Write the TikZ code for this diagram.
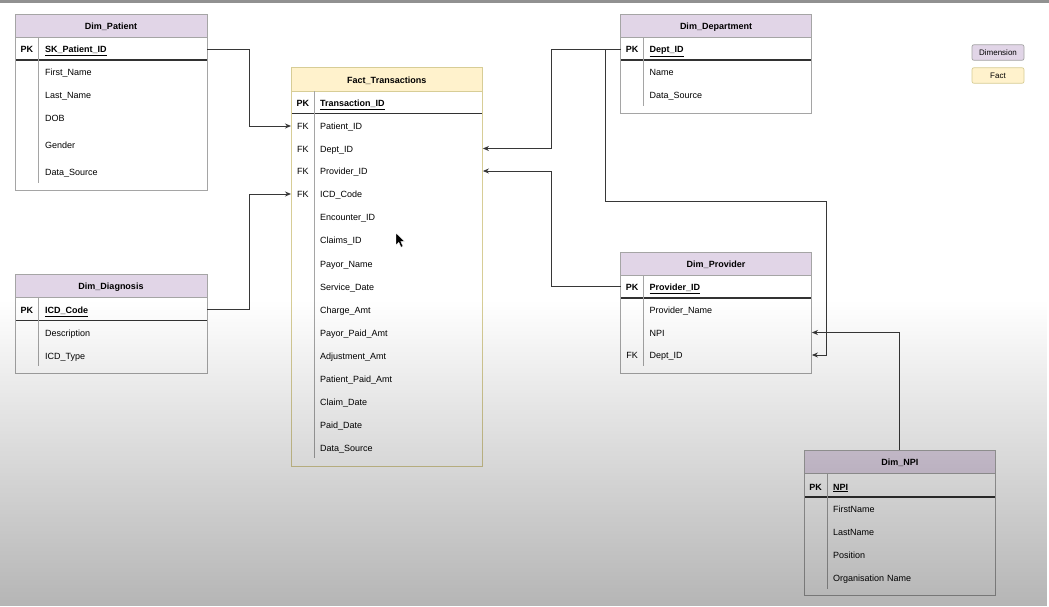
\documentclass[tikz,border=0pt]{standalone}
\usepackage{fontspec}
\setmainfont{Liberation Sans}
\usetikzlibrary{arrows.meta,fadings}
\definecolor{dimfill}{RGB}{225,213,231}
\definecolor{factfill}{RGB}{255,242,204}
\definecolor{dimline}{RGB}{165,165,165}
\definecolor{factline}{RGB}{215,205,150}
\definecolor{connc}{RGB}{55,55,55}
\definecolor{sepc}{RGB}{50,50,50}
\definecolor{topbar}{RGB}{145,145,145}
\tikzfading[name=fadedown, top color=transparent!100, bottom color=transparent!0]
\newcommand\tblfont{\fontsize{9}{11}\selectfont}
\newcommand\legfont{\fontsize{8}{10}\selectfont}
\tikzset{
  hdrD/.style={fill=dimfill, minimum width=#1, minimum height=23pt, inner sep=0pt, font=\tblfont\bfseries, text height=8.5pt, text depth=1pt},
  hdrF/.style={fill=factfill, minimum width=#1, minimum height=23pt, inner sep=0pt, font=\tblfont\bfseries, text height=8.5pt, text depth=1pt},
  fld/.style={anchor=west, inner sep=0pt, text width=#1, align=left, font=\tblfont, text height=8.5pt, text depth=1pt},
  fldk/.style={fld=#1, font=\tblfont\bfseries},
  keyl/.style={anchor=west, inner sep=0pt, minimum width=#1, font=\tblfont, text height=8.5pt, text depth=1pt},
  keyb/.style={keyl=#1, font=\tblfont\bfseries},
  dimbox/.style={draw=dimline, line width=0.8pt},
  factbox/.style={draw=factline, line width=0.8pt},
  hlineD/.style={draw=dimline, line width=0.6pt},
  hlineF/.style={draw=factline, line width=0.6pt},
  sepl/.style={draw=sepc, line width=1.1pt},
  vl/.style={draw=dimline, line width=0.7pt},
  conn/.style={draw=connc, line width=1pt, -{Stealth[length=6pt, width=5pt]}},
  legbox/.style={rounded corners=2pt, line width=0.7pt, minimum width=52pt, minimum height=15.6pt, inner sep=0pt, font=\legfont, text height=7pt, text depth=1pt},
}
\begin{document}
\begin{tikzpicture}[x=1pt, y=-1pt]
\useasboundingbox (0,0) rectangle (1049,606);
\fill[white] (0,0) rectangle (1049,606);
\fill[topbar] (0,0) rectangle (1049,2.5);

% ---------- Dim_Patient ----------
\node[hdrD=192pt] (patH) at (111,25.5) {Dim\_Patient};
\draw[hlineD] (15,37) -- (207,37);
\draw[sepl] (15,60) -- (207,60);
\draw[vl] (38.5,37) -- (38.5,182.5);
\draw[dimbox] (15,14) rectangle (207,190.5);
\node[keyb=23.5pt] (patK) at (15,49) {PK};
\node[fldk=162pt] (patPK) at (45,49) {\underline{SK\_Patient\_ID}};
\foreach \nm/\yy [count=\i] in {First\_Name/72, Last\_Name/95, DOB/118, Gender/145, Data\_Source/172}
  \node[fld=162pt] (patF\i) at (45,\yy) {\nm};

% ---------- Dim_Diagnosis ----------
\node[hdrD=192pt] (diaH) at (111,285.5) {Dim\_Diagnosis};
\draw[hlineD] (15,297) -- (207,297);
\draw[sepl] (15,320.5) -- (207,320.5);
\draw[vl] (38.5,297) -- (38.5,366);
\draw[dimbox] (15,274) rectangle (207,373.5);
\node[keyb=23.5pt] (diaK) at (15,309.5) {PK};
\node[fldk=162pt] (diaPK) at (45,309.5) {\underline{ICD\_Code}};
\node[fld=162pt] (diaF1) at (45,332.5) {Description};
\node[fld=162pt] (diaF2) at (45,355.5) {ICD\_Type};

% ---------- Fact_Transactions ----------
\node[hdrF=191.5pt] (factH) at (386.75,79.25) {Fact\_Transactions};
\draw[hlineF] (291,91) -- (482.5,91);
\draw[sepl] (291,113.5) -- (482.5,113.5);
\draw[vl] (314.5,91) -- (314.5,458);
\draw[factbox] (291,67.5) rectangle (482.5,466);
\node[keyb=23.5pt] (factK) at (291,103) {PK};
\node[fldk=162.5pt] (factPK) at (320,103) {\underline{Transaction\_ID}};
\node[keyl=23.5pt] (fkPat) at (291,126) {FK};
\node[keyl=23.5pt] (fkDept) at (291,148.5) {FK};
\node[keyl=23.5pt] (fkProv) at (291,171) {FK};
\node[keyl=23.5pt] (fkIcd) at (291,194) {FK};
\node[fld=162.5pt] (fPat) at (320,126) {Patient\_ID};
\node[fld=162.5pt] (fDept) at (320,148.5) {Dept\_ID};
\node[fld=162.5pt] (fProv) at (320,171) {Provider\_ID};
\node[fld=162.5pt] (fIcd) at (320,194) {ICD\_Code};
\foreach \nm/\yy [count=\i] in {Encounter\_ID/217, Claims\_ID/240, Payor\_Name/263.5, Service\_Date/286.5, Charge\_Amt/309.5, Payor\_Paid\_Amt/332.5, Adjustment\_Amt/355.5, Patient\_Paid\_Amt/378.5, Claim\_Date/401.5, Paid\_Date/424.5, Data\_Source/447.5}
  \node[fld=162.5pt] (factF\i) at (320,\yy) {\nm};

% ---------- Dim_Department ----------
\node[hdrD=191pt] (depH) at (716,25.5) {Dim\_Department};
\draw[hlineD] (620.5,37) -- (811.5,37);
\draw[sepl] (620.5,60) -- (811.5,60);
\draw[vl] (643.5,37) -- (643.5,106);
\draw[dimbox] (620.5,14) rectangle (811.5,113.5);
\node[keyb=23pt] (depPK) at (620.5,49) {PK};
\node[fldk=162pt] (depKey) at (649.5,49) {\underline{Dept\_ID}};
\node[fld=162pt] (depF1) at (649.5,72) {Name};
\node[fld=162pt] (depF2) at (649.5,95) {Data\_Source};

% ---------- Dim_Provider ----------
\node[hdrD=191pt] (provH) at (716,263.5) {Dim\_Provider};
\draw[hlineD] (620.5,275) -- (811.5,275);
\draw[sepl] (620.5,298) -- (811.5,298);
\draw[vl] (643.5,275) -- (643.5,366);
\draw[dimbox] (620.5,252) rectangle (811.5,373.5);
\node[keyb=23pt] (provPK) at (620.5,286.5) {PK};
\node[fldk=162pt] (provKey) at (649.5,286.5) {\underline{Provider\_ID}};
\node[fld=162pt] (provName) at (649.5,310) {Provider\_Name};
\node[fld=162pt] (provNPI) at (649.5,332.5) {NPI};
\node[keyl=23pt] (provFK) at (620.5,355) {FK};
\node[fld=162pt] (provDept) at (649.5,355) {Dept\_ID};

% ---------- Dim_NPI ----------
\node[hdrD=191.5pt] (npiH) at (899.75,462) {Dim\_NPI};
\draw[hlineD] (804,473.5) -- (995.5,473.5);
\draw[sepl] (804,497) -- (995.5,497);
\draw[vl] (827,473.5) -- (827,588.5);
\draw[dimbox] (804,450.5) rectangle (995.5,595.5);
\node[keyb=23pt] (npiK) at (804,486.5) {PK};
\node[fldk=162.5pt] (npiPK) at (833,486.5) {\underline{NPI}};
\foreach \nm/\yy [count=\i] in {FirstName/509, LastName/532, Position/555, Organisation Name/577.5}
  \node[fld=162.5pt] (npiF\i) at (833,\yy) {\nm};

% ---------- connectors ----------
\draw[conn] (patPK.east) -- ++(42.3,0) |- (fkPat.west);
\draw[conn] (diaPK.east) -- ++(42.3,0) |- (fkIcd.west);
\draw[conn] (depPK.west) -- ++(-68.8,0) |- (fDept.east);
\draw[conn] (provPK.west) -- ++(-68.8,0) |- (fProv.east);
\draw[conn] (depPK.west) -- ++(-14.8,0) |- (826.7,201.7) |- (provDept.east);
\draw[conn] (npiH.north) |- (provNPI.east);

% ---------- legend ----------
\node[legbox, draw=dimline, fill=dimfill] (legDim) at (998,52.5) {Dimension};
\node[legbox, draw=factline, fill=factfill] (legFact) at (998,75.5) {Fact};

% ---------- mouse pointer ----------
\filldraw[fill=black, draw=white, line width=0.4pt] (396,233) -- (396,245) -- (398.8,242.3) -- (401,247.2) -- (403,246.3) -- (400.8,241.5) -- (404.6,241.4) -- cycle;

% ---------- screen gradient ----------
\fill[black, opacity=0.29, path fading=fadedown] (0,300) rectangle (1049,606);
\end{tikzpicture}
\end{document}
